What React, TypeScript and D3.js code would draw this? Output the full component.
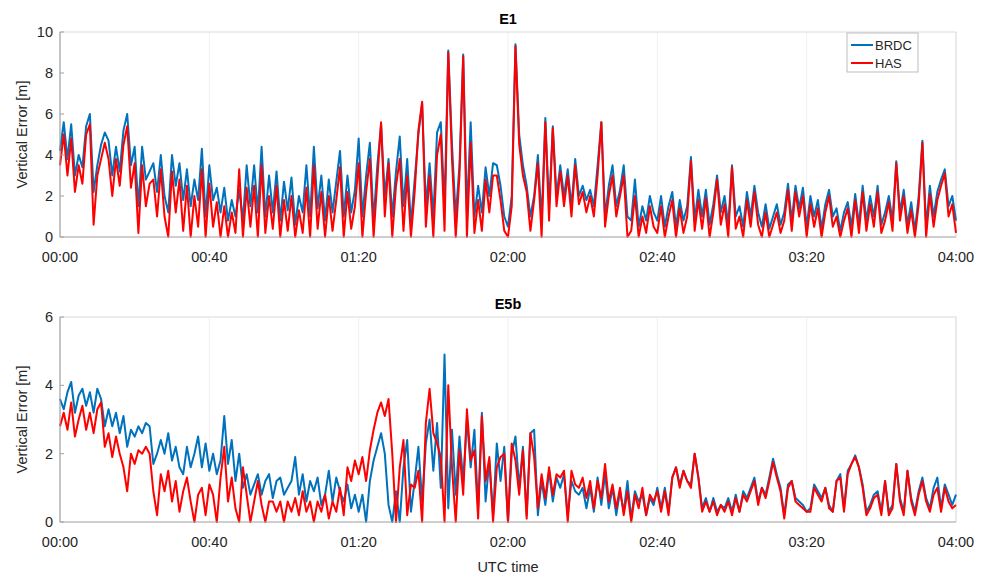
import React from "react";
import * as d3 from "d3";

// one sample per minute, 00:00 .. 04:00
const e1Brdc = [
  4.2, 5.6, 3.8, 5.5, 3.0, 4.0, 3.4, 5.4, 6.0, 2.2, 3.5, 4.5, 5.1, 4.7, 3.0, 4.4, 3.2, 5.2, 6.0, 3.5,
  4.4, 1.5, 4.4, 2.8, 3.2, 3.6, 2.2, 4.0, 2.0, 1.2, 4.0, 2.5, 3.6, 1.8, 3.3, 1.5, 2.8, 1.8, 4.3, 1.0,
  3.5, 1.8, 2.4, 1.2, 2.4, 0.8, 1.8, 1.0, 2.3, 0.8, 3.5, 1.5, 3.5, 1.2, 4.4, 1.0, 3.0, 1.2, 3.2, 0.8,
  2.7, 1.3, 2.9, 0.6, 2.0, 1.2, 3.5, 1.0, 4.4, 1.4, 3.0, 0.8, 2.8, 1.2, 2.7, 4.2, 1.0, 3.0, 1.2, 2.3,
  4.8, 1.0, 3.0, 4.6, 0.8, 3.5, 5.5, 2.0, 3.8, 1.0, 3.2, 4.9, 1.5, 3.8, 0.6, 2.8, 5.0, 6.5, 1.5, 3.6,
  1.0, 5.1, 5.6, 1.5, 9.1, 4.5, 1.0, 3.5, 8.9, 1.2, 5.6, 1.0, 2.5, 1.2, 3.4, 2.0, 3.6, 3.5, 2.5, 1.0,
  0.5, 2.0, 9.4, 5.0, 3.5, 2.5, 1.0, 2.0, 4.0, 0.8, 5.8, 1.5, 5.4, 2.0, 3.5, 2.0, 3.3, 1.5, 3.8, 2.0,
  2.5, 1.8, 2.3, 1.5, 3.5, 5.6, 1.0, 2.5, 3.5, 1.5, 2.3, 3.5, 1.0, 0.8, 2.8, 0.5, 1.5, 0.8, 2.0, 1.2,
  0.8, 2.0, 0.5, 1.5, 2.2, 0.5, 1.8, 0.8, 1.5, 3.9, 0.8, 2.3, 1.0, 2.3, 0.6, 1.6, 3.0, 1.2, 2.0, 0.6,
  3.5, 1.0, 1.5, 0.5, 2.2, 1.0, 2.5, 1.2, 0.5, 1.6, 0.4, 1.0, 1.6, 0.6, 1.2, 2.6, 0.8, 2.5, 1.4, 2.4,
  0.5, 2.0, 1.0, 1.8, 0.4, 1.6, 2.3, 1.0, 1.4, 0.3, 1.2, 1.7, 0.5, 2.1, 0.6, 2.5, 0.8, 2.0, 1.0, 2.5,
  0.6, 1.2, 2.0, 0.8, 3.7, 1.2, 2.3, 0.6, 1.7, 0.3, 2.0, 4.7, 0.5, 2.5, 1.0, 2.2, 2.8, 3.3, 1.5, 2.0,
  0.8,
];

const e1Has = [
  3.5, 5.0, 3.0, 4.8, 2.2, 3.5, 2.6, 5.0, 5.5, 0.6, 3.0, 3.8, 4.6, 3.8, 2.0, 3.8, 2.5, 4.5, 5.4, 2.4,
  3.6, 0.2, 3.5, 1.5, 2.6, 2.8, 1.0, 3.3, 1.0, 0.0, 3.2, 1.2, 2.8, 0.3, 2.5, 0.0, 2.0, 0.5, 3.3, 0.0,
  2.6, 0.5, 1.7, 0.0, 1.5, 0.0, 1.2, 0.2, 3.3, 0.0, 2.4, 0.5, 2.5, 0.0, 3.5, 0.2, 2.0, 0.4, 2.5, 0.0,
  1.8, 0.3, 2.0, 0.0, 1.3, 0.2, 2.4, 0.0, 3.5, 0.4, 2.2, 0.0, 2.0, 0.3, 1.8, 3.4, 0.0, 2.2, 0.4, 1.5,
  3.6, 0.0, 2.2, 3.8, 0.0, 2.8, 5.6, 1.0, 3.6, 0.0, 2.5, 3.8, 0.3, 3.0, 0.0, 2.2, 5.2, 6.6, 0.5, 3.0,
  0.0, 4.0, 5.0, 0.3, 9.0, 3.8, 0.0, 3.0, 8.8, 0.0, 4.6, 0.2, 1.8, 0.3, 2.8, 1.2, 3.0, 3.0, 1.8, 0.3,
  0.0, 1.5, 9.3, 4.5, 3.0, 2.2, 0.3, 1.8, 3.6, 0.0, 5.6, 0.8, 5.3, 1.5, 3.2, 1.5, 3.0, 1.0, 3.5, 1.6,
  2.2, 1.2, 2.0, 1.0, 3.0, 5.6, 0.5, 2.0, 3.0, 1.0, 2.0, 3.0, 0.0, 0.3, 2.0, 0.0, 1.0, 0.2, 1.5, 0.5,
  0.2, 1.5, 0.0, 1.0, 1.8, 0.0, 1.4, 0.2, 1.0, 3.7, 0.3, 1.8, 0.4, 1.9, 0.0, 1.2, 2.8, 0.6, 1.6, 0.0,
  3.4, 0.4, 1.0, 0.0, 1.8, 0.5, 2.2, 0.6, 0.0, 1.2, 0.0, 0.6, 1.2, 0.2, 0.8, 2.3, 0.3, 2.2, 1.0, 2.0,
  0.0, 1.6, 0.5, 1.4, 0.0, 1.2, 2.0, 0.5, 1.0, 0.0, 0.8, 1.4, 0.0, 1.8, 0.2, 2.2, 0.3, 1.6, 0.5, 2.2,
  0.2, 0.8, 1.7, 0.3, 3.6, 0.8, 2.0, 0.2, 1.3, 0.0, 1.6, 4.6, 0.0, 2.1, 0.5, 1.8, 2.5, 3.1, 1.0, 1.6,
  0.2,
];

const e5bBrdc = [
  3.6, 3.3, 3.8, 4.1, 3.2, 3.7, 3.9, 3.4, 3.8, 3.2, 3.9, 3.6, 2.8, 3.3, 2.8, 3.2, 2.6, 3.1, 2.2, 2.7,
  2.5, 2.8, 2.6, 2.9, 2.8, 1.7, 2.0, 2.4, 2.0, 2.6, 1.8, 2.2, 1.6, 1.4, 2.2, 1.6, 2.0, 2.5, 1.6, 2.3,
  1.5, 2.0, 1.4, 1.8, 3.1, 1.7, 2.4, 1.2, 2.0, 1.0, 1.4, 0.8, 1.1, 1.4, 0.8, 1.2, 1.4, 0.7, 1.2, 1.3,
  0.8, 1.0, 1.2, 1.9, 0.8, 1.4, 0.6, 1.2, 0.9, 1.3, 0.5, 0.8, 1.5, 0.6, 1.3, 0.9, 0.6, 1.1, 0.4, 0.8,
  0.3, 0.8, 0.0, 1.2, 1.8, 2.2, 2.6, 2.0, 0.5, 0.0, 0.9, 0.0, 1.6, 2.4, 0.3, 1.2, 2.2, 0.6, 2.3, 3.0,
  1.5, 2.9, 1.0, 4.9, 0.4, 2.7, 0.8, 2.5, 1.2, 3.0, 1.6, 2.7, 0.4, 3.2, 0.6, 1.8, 0.2, 2.3, 1.2, 2.2,
  0.0, 2.0, 2.5, 1.0, 2.2, 0.2, 2.6, 2.7, 0.2, 1.2, 0.5, 1.5, 0.6, 1.3, 1.0, 1.4, 0.2, 1.2, 0.9, 0.8,
  1.0, 0.4, 1.0, 0.3, 1.3, 0.5, 1.4, 0.4, 1.0, 0.2, 0.9, 0.3, 1.2, 0.1, 0.9, 0.6, 0.8, 0.2, 0.7, 0.5,
  1.0, 0.4, 1.0, 0.3, 1.3, 1.6, 1.1, 1.5, 1.2, 1.1, 2.0, 1.3, 0.4, 0.7, 0.3, 0.7, 0.3, 0.5, 0.4, 0.7,
  0.3, 0.8, 0.3, 0.9, 0.7, 1.0, 1.3, 0.6, 1.0, 0.8, 1.3, 1.85, 1.4, 1.0, 0.2, 1.1, 1.2, 0.7, 0.6, 0.5,
  0.3, 0.4, 1.1, 0.9, 0.7, 1.0, 0.5, 0.3, 1.2, 1.4, 0.4, 1.5, 1.7, 1.95, 1.6, 1.1, 0.3, 0.5, 0.8, 0.9,
  0.3, 1.2, 0.3, 0.5, 1.7, 0.7, 0.3, 1.5, 0.7, 0.3, 0.9, 1.3, 0.7, 0.4, 1.0, 1.3, 0.4, 1.1, 0.8, 0.5,
  0.8,
];

const e5bHas = [
  2.8, 3.2, 2.7, 3.5, 2.5, 3.0, 3.4, 2.7, 3.2, 2.6, 3.3, 3.5, 2.2, 2.6, 1.9, 2.5, 2.0, 1.6, 0.9, 2.0,
  1.7, 2.1, 2.0, 2.2, 2.0, 0.9, 0.2, 1.4, 0.9, 1.5, 0.6, 1.2, 0.3, 0.9, 1.3, 0.6, 0.0, 0.8, 1.0, 0.2,
  1.1, 0.8, 0.0, 1.3, 2.2, 0.6, 1.3, 0.4, 0.0, 1.6, 0.8, 0.0, 0.6, 1.2, 0.5, 0.0, 0.6, 0.6, 0.3, 0.6,
  0.0, 0.6, 0.3, 0.7, 0.2, 0.9, 0.3, 0.6, 0.0, 0.6, 0.3, 0.8, 0.1, 0.6, 0.3, 1.0, 0.2, 1.6, 1.2, 1.8,
  1.4, 1.9, 1.2, 2.1, 2.7, 3.2, 3.5, 3.1, 3.6, 2.0, 0.0, 1.6, 2.4, 0.2, 1.1, 1.0, 1.5, 0.0, 2.9, 3.9,
  2.6, 2.3, 1.9, 0.0, 4.0, 1.6, 0.0, 2.1, 0.8, 3.3, 1.8, 2.1, 0.1, 3.1, 1.2, 1.9, 0.0, 1.6, 1.9, 2.0,
  0.0, 2.3, 1.8, 0.8, 2.1, 0.1, 2.6, 1.9, 0.4, 1.4, 0.7, 1.6, 0.8, 1.4, 1.3, 1.5, 0.0, 1.5, 1.1, 1.0,
  1.3, 0.7, 1.2, 0.4, 1.2, 0.7, 1.7, 0.6, 1.1, 0.4, 1.0, 0.2, 0.9, 0.0, 0.8, 0.4, 1.0, 0.2, 0.8, 0.6,
  0.9, 0.3, 0.9, 0.2, 1.3, 1.6, 1.0, 1.5, 1.2, 1.0, 2.0, 1.3, 0.3, 0.6, 0.3, 0.6, 0.2, 0.5, 0.3, 0.6,
  0.2, 0.7, 0.3, 0.8, 0.6, 0.9, 1.2, 0.5, 1.0, 0.7, 1.2, 1.75, 1.3, 0.9, 0.1, 1.0, 1.2, 0.6, 0.5, 0.4,
  0.3, 0.3, 1.0, 0.8, 0.6, 1.0, 0.4, 0.3, 1.2, 1.3, 0.3, 1.4, 1.7, 1.9, 1.6, 1.0, 0.2, 0.4, 0.7, 0.8,
  0.2, 1.2, 0.2, 0.4, 1.7, 0.6, 0.2, 1.5, 0.6, 0.2, 0.8, 1.2, 0.6, 0.3, 0.8, 1.0, 0.3, 1.0, 0.6, 0.4,
  0.5,
];

const tickMinutes = [0, 40, 80, 120, 160, 200, 240];
const tickLabels = ["00:00", "00:40", "01:20", "02:00", "02:40", "03:20", "04:00"];
const seriesNames = ["BRDC", "HAS"];
const seriesColors = ["#0072BD", "#FF0000"];

const FONT = "'Liberation Sans', Arial, Helvetica, sans-serif";

const x = d3.scaleLinear().domain([0, 240]).range([60, 956]);

type PanelProps = {
  title: string;
  top: number;
  bottom: number;
  yMax: number;
  yTicks: number[];
  brdc: number[];
  has: number[];
  legend?: boolean;
};

function Panel({ title, top, bottom, yMax, yTicks, brdc, has, legend }: PanelProps) {
  const y = d3.scaleLinear().domain([0, yMax]).range([bottom, top]);
  const line = d3
    .line<number>()
    .x((_, i) => x(i))
    .y((d) => y(d));
  const [x0, x1] = x.range();

  return (
    <g>
      {tickMinutes.map((m) => (
        <line key={m} x1={x(m)} x2={x(m)} y1={top} y2={bottom} stroke="#f0f0f0" />
      ))}
      <rect x={x0} y={top} width={x1 - x0} height={bottom - top} fill="none" stroke="#dcdcdc" />
      <path d={line(brdc) || ""} fill="none" stroke={seriesColors[0]} strokeWidth={2} strokeLinejoin="round" />
      <path d={line(has) || ""} fill="none" stroke={seriesColors[1]} strokeWidth={2} strokeLinejoin="round" />
      <line x1={x0} x2={x0} y1={top} y2={bottom} stroke="#a0a0a0" />
      <line x1={x0} x2={x1} y1={bottom} y2={bottom} stroke="#b0b0b0" />
      {yTicks.map((t) => (
        <g key={t}>
          <line x1={x0} x2={x0 + 4} y1={y(t)} y2={y(t)} stroke="#a0a0a0" />
          <text x={x0 - 7} y={y(t) + 5} textAnchor="end" fontSize={14.5} fill="#262626" fontFamily={FONT}>
            {t}
          </text>
        </g>
      ))}
      {tickMinutes.map((m, i) => (
        <text key={m} x={x(m)} y={bottom + 25} textAnchor="middle" fontSize={14.5} fill="#262626" fontFamily={FONT}>
          {tickLabels[i]}
        </text>
      ))}
      <text
        transform={`translate(27,${(top + bottom) / 2}) rotate(-90)`}
        textAnchor="middle"
        fontSize={14.5}
        fill="#262626"
        fontFamily={FONT}
      >
        Vertical Error [m]
      </text>
      <text x={(x0 + x1) / 2} y={top - 8} textAnchor="middle" fontSize={14.5} fontWeight="bold" fill="#000" fontFamily={FONT}>
        {title}
      </text>
      {legend && (
        <g>
          <rect x={847} y={33} width={71} height={39} fill="#fff" stroke="#bdbdbd" />
          {seriesNames.map((n, i) => (
            <g key={n}>
              <line x1={851} x2={873} y1={45 + i * 18} y2={45 + i * 18} stroke={seriesColors[i]} strokeWidth={2} />
              <text x={875} y={50 + i * 18} fontSize={13} fill="#262626" fontFamily={FONT}>
                {n}
              </text>
            </g>
          ))}
        </g>
      )}
    </g>
  );
}

export default function App() {
  return (
    <svg
      width={986}
      height={577}
      style={{ position: "absolute", left: 0, top: 0, background: "#fff" }}
    >
      <Panel title="E1" top={32} bottom={237} yMax={10} yTicks={[0, 2, 4, 6, 8, 10]} brdc={e1Brdc} has={e1Has} legend />
      <Panel title="E5b" top={317} bottom={522} yMax={6} yTicks={[0, 2, 4, 6]} brdc={e5bBrdc} has={e5bHas} />
      <text x={508} y={572} textAnchor="middle" fontSize={14.5} fill="#262626" fontFamily={FONT}>
        UTC time
      </text>
    </svg>
  );
}
